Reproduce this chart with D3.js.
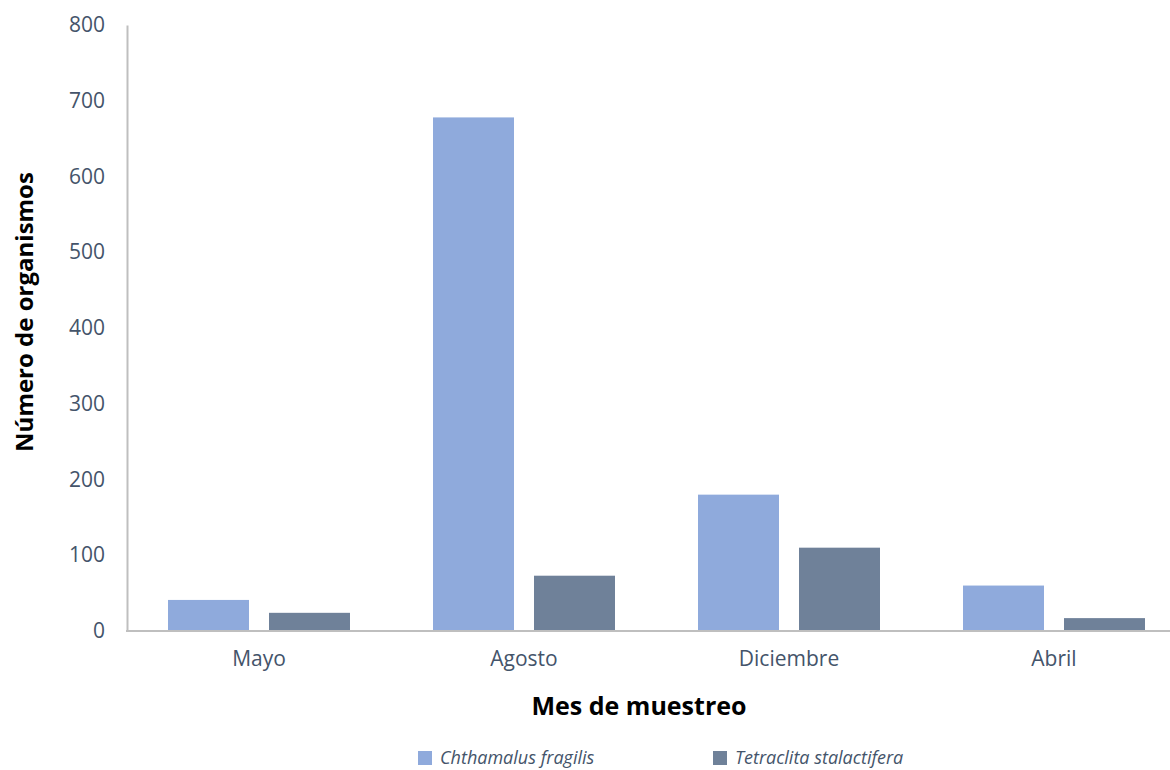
<!DOCTYPE html>
<html>
<head>
<meta charset="utf-8">
<script src="https://cdn.jsdelivr.net/npm/d3@7"></script>
<style>
  html, body { margin: 0; padding: 0; background: #fff; }
  svg { display: block; font-family: "Open Sans", sans-serif; }
</style>
</head>
<body>
<svg id="chart" width="1170" height="770"></svg>
<script>
// Sampling months and organism counts per species
const months = ["Mayo", "Agosto", "Diciembre", "Abril"];
const species = ["Chthamalus fragilis", "Tetraclita stalactifera"];
const chthamalus = [41, 678, 180, 60];
const tetraclita = [24, 73, 110, 17];
const yTicks = [0, 100, 200, 300, 400, 500, 600, 700, 800];
const colors = ["#8FAADC", "#6F8199"];

const svg = d3.select("#chart");
const textColor = "#44546A";

const x0 = d3.scaleBand().domain(months).range([126.5, 1186.5]).paddingInner(0).paddingOuter(0);
const x1 = d3.scaleBand().domain(species).range([0, x0.bandwidth()]).paddingInner(0.198).paddingOuter(0.411);
const y = d3.scaleLinear().domain([0, 800]).range([631, 25]);

const seriesValues = [chthamalus, tetraclita];

// Bars
months.forEach((m, i) => {
  species.forEach((s, j) => {
    const v = seriesValues[j][i];
    svg.append("rect")
      .attr("x", x0(m) + x1(s))
      .attr("y", y(v))
      .attr("width", x1.bandwidth())
      .attr("height", y(0) - y(v))
      .attr("fill", colors[j]);
  });
});

// Y axis
const yAxis = d3.axisLeft(y).tickValues(yTicks).tickSize(0).tickPadding(22);
const gy = svg.append("g").attr("transform", "translate(127,0)").call(yAxis);
gy.select(".domain").attr("stroke", "#BFBFBF").attr("stroke-width", 2);
gy.selectAll("text").attr("fill", textColor).style("font-size", "21px").style("font-family", "'Open Sans', sans-serif");

// X axis
const xAxis = d3.axisBottom(x0).tickSize(0).tickPadding(20);
const gx = svg.append("g").attr("transform", "translate(0,631)").call(xAxis);
gx.select(".domain").attr("stroke", "#BFBFBF").attr("stroke-width", 2).attr("d", "M126,0H1170");
gx.selectAll("text").attr("fill", textColor).style("font-size", "21px").style("font-family", "'Open Sans', sans-serif");

// Axis titles
svg.append("text")
  .attr("x", 639).attr("y", 715)
  .attr("text-anchor", "middle")
  .style("font-size", "25px").style("font-weight", "bold").attr("fill", "#000")
  .text("Mes de muestreo");

svg.append("text")
  .attr("transform", "translate(33,312) rotate(-90)")
  .attr("text-anchor", "middle")
  .style("font-size", "24px").style("font-weight", "bold").attr("fill", "#000")
  .text("Número de organismos");

// Legend
const legendX = [418, 713];
species.forEach((s, j) => {
  const g = svg.append("g").attr("transform", `translate(${legendX[j]},0)`);
  g.append("rect").attr("x", 0).attr("y", 751).attr("width", 14).attr("height", 14).attr("fill", colors[j]);
  g.append("text").attr("x", 22).attr("y", 764)
    .style("font-size", "18px").style("font-style", "italic").attr("fill", textColor)
    .text(s);
});
</script>
</body>
</html>
